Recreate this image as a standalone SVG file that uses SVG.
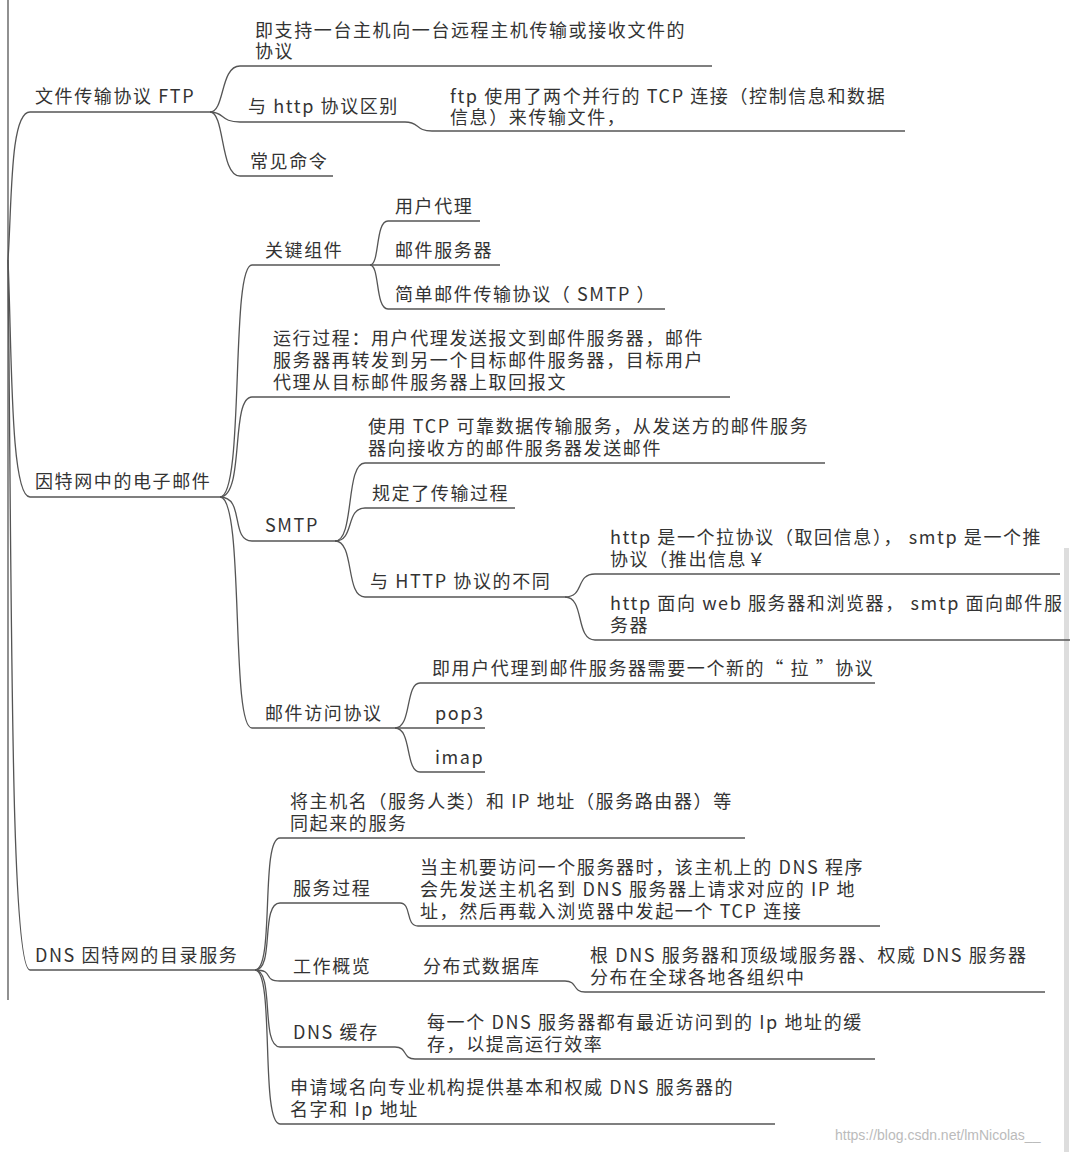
<svg xmlns="http://www.w3.org/2000/svg" width="1079" height="1152" viewBox="0 0 1079 1152">
<style>
text{font-family:"Noto Sans CJK SC","Liberation Sans",sans-serif;font-size:18px;letter-spacing:1.6px;fill:#333}
.c path{fill:none;stroke:#555;stroke-width:1.3}
</style>
<rect width="1079" height="1152" fill="#fff"/>
<rect x="1064" y="548" width="5" height="604" fill="#ddd"/>
<g class="c" id="connectors">
<path d="M8 0 V1000"/>
<path d="M8 260 C12 200 10 112 30 112 H210"/>
<path d="M8 260 C12 350 10 497 30 497 H220"/>
<path d="M8 260 C12 600 10 970 30 970 H255"/>
<path d="M210 112 C225 112 220 66 240 66 H712"/>
<path d="M210 112 C225 112 220 122 240 122 H405"/>
<path d="M210 112 C225 112 220 176 240 176 H333"/>
<path d="M405 122 C420 122 415 131 432 131 H905"/>
<path d="M220 497 C245 497 230 265 252 265 H370"/>
<path d="M220 497 C245 497 230 397 252 397 H730"/>
<path d="M220 497 C245 497 230 541 252 541 H335"/>
<path d="M220 497 C245 497 230 728 252 728 H395"/>
<path d="M370 265 C380 265 375 221 388 221 H480"/>
<path d="M370 265 H500"/>
<path d="M370 265 C380 265 375 309 388 309 H665"/>
<path d="M335 541 C355 541 345 463 365 463 H825"/>
<path d="M335 541 C355 541 345 508 365 508 H515"/>
<path d="M335 541 C355 541 345 597 365 597 H565"/>
<path d="M565 597 C585 597 575 574 595 574 H1060"/>
<path d="M565 597 C585 597 575 640 595 640 H1070"/>
<path d="M395 728 C412 728 405 683 420 683 H875"/>
<path d="M395 728 H485"/>
<path d="M395 728 C412 728 405 772 420 772 H485"/>
<path d="M255 970 C275 970 260 838 280 838 H745"/>
<path d="M255 970 C275 970 260 903 280 903 H400"/>
<path d="M255 970 C275 970 262 981 280 981 H565"/>
<path d="M255 970 C275 970 260 1047 280 1047 H395"/>
<path d="M255 970 C275 970 260 1124 280 1124 H775"/>
<path d="M400 903 C412 903 405 926 418 926 H880"/>
<path d="M565 981 C578 981 572 992 585 992 H1045"/>
<path d="M395 1047 C408 1047 402 1059 415 1059 H875"/>
</g>
<g id="ftp"><text x="35" y="103">文件传输协议 FTP</text></g>
<g id="ftp1"><text x="255" y="37">即支持一台主机向一台远程主机传输或接收文件的</text><text x="255" y="58">协议</text></g>
<g id="ftp2"><text x="248" y="113">与 http 协议区别</text></g>
<g id="ftp2a"><text x="450" y="103">ftp 使用了两个并行的 TCP 连接（控制信息和数据</text><text x="450" y="124">信息）来传输文件，</text></g>
<g id="ftp3"><text x="250" y="168">常见命令</text></g>
<g id="mail"><text x="35" y="488">因特网中的电子邮件</text></g>
<g id="k"><text x="265" y="257">关键组件</text></g>
<g id="k1"><text x="395" y="213">用户代理</text></g>
<g id="k2"><text x="395" y="257">邮件服务器</text></g>
<g id="k3"><text x="395" y="301">简单邮件传输协议（ SMTP ）</text></g>
<g id="run"><text x="273" y="345">运行过程：用户代理发送报文到邮件服务器，邮件</text><text x="273" y="367">服务器再转发到另一个目标邮件服务器，目标用户</text><text x="273" y="389">代理从目标邮件服务器上取回报文</text></g>
<g id="smtp"><text x="265" y="532">SMTP</text></g>
<g id="s1"><text x="368" y="433">使用 TCP 可靠数据传输服务，从发送方的邮件服务</text><text x="368" y="455">器向接收方的邮件服务器发送邮件</text></g>
<g id="s2"><text x="372" y="500">规定了传输过程</text></g>
<g id="s3"><text x="370" y="588">与 HTTP 协议的不同</text></g>
<g id="s3a"><text x="610" y="544">http 是一个拉协议（取回信息）， smtp 是一个推</text><text x="610" y="566">协议（推出信息￥</text></g>
<g id="s3b"><text x="610" y="610">http 面向 web 服务器和浏览器， smtp 面向邮件服</text><text x="610" y="632">务器</text></g>
<g id="acc"><text x="265" y="720">邮件访问协议</text></g>
<g id="a1"><text x="432" y="675">即用户代理到邮件服务器需要一个新的“ 拉 ”协议</text></g>
<g id="a2"><text x="435" y="720">pop3</text></g>
<g id="a3"><text x="435" y="764">imap</text></g>
<g id="dns"><text x="35" y="962">DNS 因特网的目录服务</text></g>
<g id="d1"><text x="290" y="808">将主机名（服务人类）和 IP 地址（服务路由器）等</text><text x="290" y="830">同起来的服务</text></g>
<g id="d2"><text x="293" y="895">服务过程</text></g>
<g id="d2a"><text x="420" y="874">当主机要访问一个服务器时，该主机上的 DNS 程序</text><text x="420" y="896">会先发送主机名到 DNS 服务器上请求对应的 IP 地</text><text x="420" y="918">址，然后再载入浏览器中发起一个 TCP 连接</text></g>
<g id="d3"><text x="293" y="973">工作概览</text></g>
<g id="d3a"><text x="423" y="973">分布式数据库</text></g>
<g id="d3b"><text x="590" y="962">根 DNS 服务器和顶级域服务器、权威 DNS 服务器</text><text x="590" y="984">分布在全球各地各组织中</text></g>
<g id="d4"><text x="293" y="1039">DNS 缓存</text></g>
<g id="d4a"><text x="427" y="1029">每一个 DNS 服务器都有最近访问到的 Ip 地址的缓</text><text x="427" y="1051">存，以提高运行效率</text></g>
<g id="d5"><text x="290" y="1094">申请域名向专业机构提供基本和权威 DNS 服务器的</text><text x="290" y="1116">名字和 Ip 地址</text></g>
<text x="835" y="1140" style="font-size:14px;letter-spacing:0;fill:#bbb;font-family:'Liberation Sans',sans-serif">https://blog.csdn.net/lmNicolas__</text>
</svg>
